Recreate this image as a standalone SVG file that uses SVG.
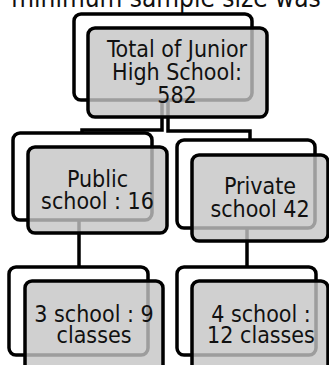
<svg xmlns="http://www.w3.org/2000/svg" width="329" height="365" viewBox="0 0 329 365">
<style>
text{font-family:"DejaVu Sans Condensed","DejaVu Sans",sans-serif;font-size:23px;fill:#111;text-anchor:middle}
.back{fill:#fff;stroke:#000;stroke-width:3.5}
.front{fill:#c4c4c4;fill-opacity:0.8;stroke:#000;stroke-width:3.5}
.conn{fill:none;stroke:#000;stroke-width:3.5}
</style>
<rect width="329" height="365" fill="#fff"/>
<text x="166" y="7" style="font-size:26px">minimum sample size was</text>
<g id="backs">
<rect class="back" x="74" y="14" width="178" height="86" rx="7"/>
<rect class="back" x="13" y="133" width="139" height="87" rx="7"/>
<rect class="back" x="177" y="140" width="138" height="88" rx="7"/>
<rect class="back" x="9" y="267" width="139" height="88" rx="7"/>
<rect class="back" x="177" y="267" width="139" height="88" rx="7"/>
</g>
<g id="connectors">
<path class="conn" d="M162,100 V130 H82 V133"/>
<path class="conn" d="M168,100 V131 H250 V140"/>
<path class="conn" d="M79,220 V267"/>
<path class="conn" d="M247,228 V267"/>
</g>
<g id="node-total">
<rect class="front" x="88" y="28" width="179" height="89" rx="7"/>
<text x="177" y="57">Total of Junior</text>
<text x="177" y="80">High School:</text>
<text x="177" y="103">582</text>
</g>
<g id="node-public">
<rect class="front" x="28" y="147" width="139" height="86" rx="7"/>
<text x="97.5" y="187">Public</text>
<text x="97.5" y="209">school : 16</text>
</g>
<g id="node-private">
<rect class="front" x="192" y="155" width="136" height="86" rx="7"/>
<text x="260" y="194">Private</text>
<text x="260" y="217">school 42</text>
</g>
<g id="node-3school">
<rect class="front" x="25" y="281" width="138" height="95" rx="7"/>
<text x="94" y="322">3 school : 9</text>
<text x="94" y="343">classes</text>
</g>
<g id="node-4school">
<rect class="front" x="192" y="281" width="136" height="95" rx="7"/>
<text x="261" y="322">4 school :</text>
<text x="261" y="343">12 classes</text>
</g>
</svg>
